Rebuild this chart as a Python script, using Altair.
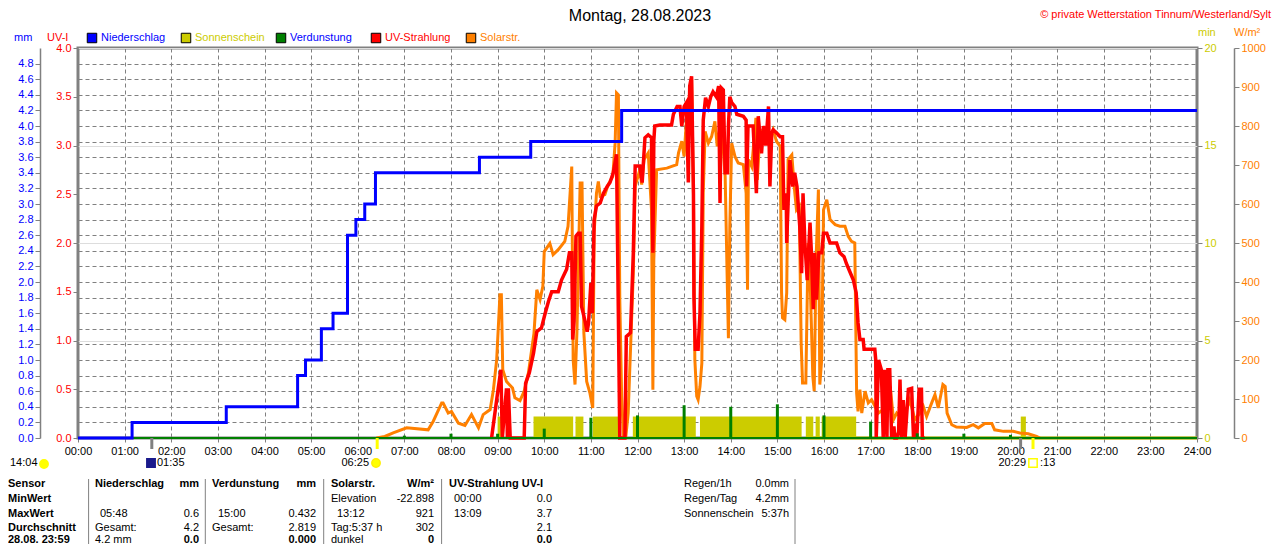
import altair as alt
import pandas as pd

FONT = "Liberation Sans, Arial, sans-serif"
FS = 11
BLUE, YEL, GREEN, RED, ORANGE, GRAY = "#0000FF", "#CCCC00", "#008000", "#FF0000", "#FF8000", "#808080"

# ---------------- data (hours of the day) ----------------
rain_h = [0, 1.16, 3.18, 4.71, 4.88, 5.22, 5.47, 5.78, 5.96, 6.15, 6.38, 8.61, 9.71, 11.66, 24]
rain_mm = [0, 0.2, 0.4, 0.8, 1.0, 1.4, 1.6, 2.6, 2.8, 3.0, 3.4, 3.6, 3.8, 4.2, 4.2]

evap_h = [1, 2, 3, 4, 5, 6, 7, 8, 9, 10, 11, 12, 13, 14, 15, 16, 17, 18, 19, 20, 21]
evap_mm = [0.01, 0.01, 0.01, 0.01, 0.01, 0.01, 0.03, 0.055, 0.055, 0.12, 0.26, 0.29,
           0.42, 0.40, 0.432, 0.29, 0.21, 0.06, 0.055, 0.04, 0.01]

sun_start = [9.00, 9.77, 10.67, 11.04, 11.90, 13.34, 15.61, 15.82, 15.95, 20.22]
sun_end = [9.07, 10.62, 10.84, 11.62, 13.25, 15.52, 15.77, 15.91, 16.69, 20.33]
sun_min = [1.1, 1.1, 1.1, 1.1, 1.1, 1.1, 1.1, 1.1, 1.1, 1.1]
sun_zero = [15.65, 24.0]
base_line = [0.0, 24.0]

solar = [
    (6.40, 0), (6.58, 4), (6.76, 13), (7.05, 26), (7.51, 21), (7.62, 43), (7.80, 90), (7.83, 90),
    (7.94, 64), (8.01, 68), (8.16, 38), (8.30, 32), (8.44, 60), (8.59, 26), (8.69, 60), (8.84, 73),
    (8.91, 124), (8.98, 201), (9.05, 367), (9.08, 367), (9.11, 175), (9.19, 145), (9.32, 128),
    (9.37, 103), (9.48, 96), (9.57, 120), (9.66, 167), (9.78, 269), (9.84, 380), (9.91, 355),
    (9.97, 389), (10.00, 478), (10.12, 499), (10.19, 470), (10.30, 483), (10.44, 504), (10.51, 543),
    (10.59, 696), (10.62, 201), (10.66, 137), (10.70, 269), (10.77, 654), (10.81, 654), (10.85, 269),
    (10.91, 145), (10.98, 115), (11.04, 77), (11.07, 526), (11.12, 628), (11.16, 658), (11.20, 620),
    (11.30, 624), (11.37, 649), (11.47, 671), (11.52, 756), (11.55, 885), (11.59, 880), (11.62, 355),
    (11.66, 107), (11.70, 4), (11.75, 4), (11.80, 64), (11.91, 423), (11.95, 645), (12.05, 688),
    (12.09, 650), (12.14, 714), (12.23, 731), (12.30, 585), (12.33, 124), (12.35, 457), (12.41, 688),
    (12.63, 692), (12.84, 701), (12.88, 731), (12.95, 761), (13.00, 722), (13.05, 816), (13.12, 885),
    (13.16, 921), (13.20, 628), (13.23, 201), (13.27, 107), (13.30, 98), (13.34, 132), (13.38, 192),
    (13.41, 628), (13.45, 786), (13.52, 756), (13.59, 773), (13.66, 812), (13.71, 748), (13.77, 799),
    (13.83, 756), (13.88, 671), (13.93, 372), (13.95, 256), (13.98, 543), (14.02, 756), (14.09, 722),
    (14.16, 705), (14.27, 701), (14.33, 628), (14.36, 380), (14.38, 714), (14.45, 696), (14.54, 821),
    (14.57, 662), (14.63, 791), (14.73, 765), (14.84, 773), (14.91, 791), (14.98, 761), (15.06, 748),
    (15.09, 372), (15.11, 308), (15.16, 303), (15.20, 372), (15.23, 714), (15.31, 726), (15.36, 645),
    (15.41, 585), (15.47, 594), (15.51, 244), (15.54, 141), (15.61, 141), (15.66, 500), (15.71, 372),
    (15.76, 158), (15.79, 120), (15.83, 457), (15.88, 637), (15.91, 137), (15.95, 201), (15.99, 585),
    (16.06, 611), (16.13, 560), (16.24, 547), (16.34, 543), (16.45, 543), (16.52, 517), (16.59, 504),
    (16.66, 500), (16.70, 115), (16.73, 68), (16.77, 124), (16.81, 64), (16.88, 120), (16.95, 90),
    (17.02, 98), (17.17, 64), (17.27, 73), (17.42, 132), (17.49, 47), (17.56, 64), (17.70, 47),
    (17.84, 98), (17.95, 47), (18.06, 64), (18.13, 81), (18.20, 55), (18.31, 90), (18.38, 111),
    (18.45, 77), (18.55, 137), (18.60, 132), (18.64, 64), (18.74, 34), (18.84, 28), (19.06, 27),
    (19.20, 34), (19.31, 26), (19.45, 37), (19.60, 37), (19.66, 21), (19.85, 17), (20.06, 17),
    (20.20, 13), (20.38, 11), (20.56, 4), (20.63, 0),
]

uv = [
    (8.87, 0), (9.01, 0.50), (9.07, 0.70), (9.10, 0), (9.19, 0.51), (9.21, 0), (9.23, 0.51), (9.27, 0),
    (9.57, 0), (9.60, 0.56), (9.68, 0.67), (9.77, 0.87), (9.84, 1.09), (9.94, 1.13), (10.02, 1.28),
    (10.09, 1.40), (10.16, 1.50), (10.30, 1.50), (10.37, 1.62), (10.48, 1.73), (10.54, 1.90),
    (10.59, 1.90), (10.61, 1.01), (10.64, 1.20), (10.68, 2.07), (10.73, 2.10), (10.77, 2.10),
    (10.80, 1.35), (10.87, 1.21), (10.92, 1.09), (10.95, 1.18), (11.00, 1.59), (11.03, 1.28),
    (11.07, 2.24), (11.12, 2.38), (11.20, 2.41), (11.27, 2.51), (11.35, 2.58), (11.41, 2.62),
    (11.48, 2.72), (11.55, 2.91), (11.59, 1.25), (11.62, 0), (11.73, 0), (11.76, 1.04), (11.85, 1.08),
    (11.91, 1.90), (11.95, 2.79), (12.05, 2.79), (12.10, 2.62), (12.16, 3.08), (12.23, 3.11),
    (12.30, 3.08), (12.33, 1.90), (12.35, 3.05), (12.37, 3.20), (12.48, 3.21), (12.73, 3.21),
    (12.77, 3.32), (12.85, 3.40), (12.91, 3.40), (12.95, 3.20), (13.00, 3.40), (13.05, 3.44),
    (13.09, 2.62), (13.12, 3.61), (13.16, 3.71), (13.20, 2.51), (13.21, 1.45), (13.24, 0.91),
    (13.30, 0.91), (13.34, 1.28), (13.38, 2.17), (13.41, 3.26), (13.46, 3.49), (13.52, 3.40),
    (13.57, 3.50), (13.62, 3.55), (13.69, 3.50), (13.74, 3.61), (13.77, 2.41), (13.80, 3.59),
    (13.84, 3.57), (13.88, 2.72), (13.93, 2.72), (13.95, 3.20), (13.98, 3.50), (14.02, 3.44),
    (14.09, 3.40), (14.13, 3.32), (14.27, 3.30), (14.33, 3.26), (14.34, 2.58), (14.37, 3.20),
    (14.48, 3.20), (14.51, 2.90), (14.55, 2.51), (14.59, 3.30), (14.66, 2.92), (14.70, 3.20),
    (14.75, 3.00), (14.81, 3.40), (14.84, 2.58), (14.88, 3.13), (14.91, 3.16), (14.98, 3.13),
    (15.06, 3.09), (15.11, 3.09), (15.14, 2.34), (15.19, 2.51), (15.20, 2.00), (15.23, 2.41),
    (15.27, 2.85), (15.33, 2.58), (15.37, 2.72), (15.42, 2.58), (15.48, 2.17), (15.52, 1.69),
    (15.55, 2.51), (15.59, 2.00), (15.64, 1.62), (15.70, 2.21), (15.73, 1.90), (15.77, 1.32),
    (15.80, 1.90), (15.84, 1.42), (15.89, 1.90), (15.95, 1.90), (15.99, 2.10), (16.06, 2.10),
    (16.13, 2.00), (16.27, 2.00), (16.34, 1.90), (16.43, 1.86), (16.48, 1.79), (16.55, 1.71),
    (16.63, 1.62), (16.69, 1.49), (16.73, 1.18), (16.77, 1.01), (16.84, 1.01), (16.86, 0.91),
    (17.09, 0.91), (17.11, 0.80), (17.12, 0), (17.17, 0.80), (17.23, 0.70), (17.27, 0), (17.30, 0.70),
    (17.35, 0), (17.37, 0.70), (17.41, 0.70), (17.45, 0), (17.50, 0.12), (17.52, 0), (17.56, 0),
    (17.60, 0.06), (17.63, 0.60), (17.66, 0), (17.70, 0.39), (17.74, 0), (17.81, 0.50), (17.88, 0.51),
    (17.92, 0), (17.95, 0.15), (17.99, 0), (18.04, 0.50), (18.09, 0.50), (18.11, 0), (18.16, 0),
]

# astronomical events below the time axis
event_h = [1.583, 6.417, 20.217, 20.483]
event_color = [GRAY, "#FFFF00", GRAY, "#FFFF00"]

# axis tick lists
hour_ticks = list(range(25))
mm_ticks = [0.0, 0.2, 0.4, 0.6, 0.8, 1.0, 1.2, 1.4, 1.6, 1.8, 2.0, 2.2, 2.4, 2.6, 2.8, 3.0,
            3.2, 3.4, 3.6, 3.8, 4.0, 4.2, 4.4, 4.6, 4.8]
uv_ticks = [0.0, 0.5, 1.0, 1.5, 2.0, 2.5, 3.0, 3.5, 4.0]
min_ticks = [0, 5, 10, 15, 20]
w_ticks = [0, 100, 200, 300, 400, 500, 600, 700, 800, 900, 1000]

# ---------------- text content & layout (pixels relative to plot area) ----------------
ROW_Y = [436, 451, 465.5, 479.5, 491.5]
COL_X = {"sensor": -70, "n": 17, "n_t": 22, "n_r": 121, "v": 134, "v_t": 140, "v_r": 238,
         "s": 253, "s_t": 259, "s_r": 356, "u": 371, "u_t": 376, "u_r": 474, "rg": 606, "rg_r": 711}
table_cells = [
    ("Sensor", "sensor", 0, "bold"), ("MinWert", "sensor", 1, "bold"), ("MaxWert", "sensor", 2, "bold"),
    ("Durchschnitt", "sensor", 3, "bold"), ("28.08. 23:59", "sensor", 4, "bold"),
    ("Niederschlag", "n", 0, "bold"), ("mm", "n_r", 0, "bold"),
    ("Verdunstung", "v", 0, "bold"), ("mm", "v_r", 0, "bold"),
    ("Solarstr.", "s", 0, "bold"), ("W/m²", "s_r", 0, "bold"),
    ("UV-Strahlung UV-I", "u", 0, "bold"),
    ("Elevation", "s", 1, "normal"), ("-22.898", "s_r", 1, "normal"),
    ("00:00", "u_t", 1, "normal"), ("0.0", "u_r", 1, "normal"),
    ("05:48", "n_t", 2, "normal"), ("0.6", "n_r", 2, "normal"),
    ("15:00", "v_t", 2, "normal"), ("0.432", "v_r", 2, "normal"),
    ("13:12", "s_t", 2, "normal"), ("921", "s_r", 2, "normal"),
    ("13:09", "u_t", 2, "normal"), ("3.7", "u_r", 2, "normal"),
    ("Gesamt:", "n", 3, "normal"), ("4.2", "n_r", 3, "normal"),
    ("Gesamt:", "v", 3, "normal"), ("2.819", "v_r", 3, "normal"),
    ("Tag:5:37 h", "s", 3, "normal"), ("302", "s_r", 3, "normal"), ("2.1", "u_r", 3, "normal"),
    ("4.2 mm", "n", 4, "normal"), ("0.0", "n_r", 4, "bold"), ("0.000", "v_r", 4, "bold"),
    ("dunkel", "s", 4, "normal"), ("0", "s_r", 4, "bold"), ("0.0", "u_r", 4, "bold"),
    ("Regen/1h", "rg", 0, "normal"), ("0.0mm", "rg_r", 0, "normal"),
    ("Regen/Tag", "rg", 1, "normal"), ("4.2mm", "rg_r", 1, "normal"),
    ("Sonnenschein", "rg", 2, "normal"), ("5:37h", "rg_r", 2, "normal"),
]
sep_x = [10.6, 127.3, 245.7, 363.6, 717]
sep_y = (431, 506)

legend_labels = ["Niederschlag", "Sonnenschein", "Verdunstung", "UV-Strahlung", "Solarstr."]
legend_colors = [BLUE, YEL, GREEN, RED, ORANGE]
legend_text_colors = [BLUE, YEL, BLUE, RED, ORANGE]
legend_x = [14, 108, 203, 298, 393]
LEG_Y = -10

# free texts: (text, x, y, color, align, weight, size)
free_texts = [
    ("Montag, 28.08.2023", 562, -32, "black", "center", "normal", 16),
    ("© private Wetterstation Tinnum/Westerland/Sylt", 1193, -33, RED, "right", "normal", FS),
    ("mm", -64, LEG_Y, BLUE, "left", "normal", FS),
    ("UV-I", -31, LEG_Y, RED, "left", "normal", FS),
    ("min", 1120, -15, YEL, "left", "normal", FS),
    ("W/m²", 1156, -15, ORANGE, "left", "normal", FS),
    ("14:04", -68, 415, "black", "left", "normal", FS),
    ("01:35", 79, 415, "black", "left", "normal", FS),
    ("06:25", 291, 415, "black", "right", "normal", FS),
    ("20:29", 948, 415, "black", "right", "normal", FS),
    (":13", 962, 415, "black", "left", "normal", FS),
]
# icons: (x, y, fill, stroke, shape)
icons = [(-34, 416, "#FFFF00", "#FFFF00", "circle"), (73, 415, "#1A1A8C", "#1A1A8C", "square"),
         (298, 415, "#FFFF00", "#FFEE00", "circle"), (955, 415, "white", "#FFFF00", "square")]

# ---------------- chart ----------------
W, H = 1119, 390

X = alt.X("h:Q", scale=alt.Scale(domain=[0, 24], nice=False, zero=False),
          axis=alt.Axis(values=hour_ticks, title=None,
                        labelExpr="(datum.value < 10 ? '0' : '') + datum.value + ':00'",
                        grid=True, gridDash=[4, 3], gridColor=GRAY, gridOpacity=1, gridWidth=1,
                        domain=False, ticks=True, tickColor=GRAY, tickSize=4, labelPadding=3,
                        labelFlush=False, labelOverlap=False, labelFont=FONT, labelFontSize=FS,
                        labelColor="black"))


def yax(**kw):
    base = dict(title=None, labelFont=FONT, labelFontSize=FS, tickColor=GRAY, tickSize=5,
                labelPadding=2, labelOverlap=False, labelFlush=False, domainColor=GRAY,
                labelBound=False)
    base.update(kw)
    return alt.Axis(**base)


sun_df = pd.DataFrame({"h": sun_start, "h1": sun_end, "v": sun_min, "z": 0.0})
sun_zero_df = pd.DataFrame({"h": [sun_zero[0]], "h1": [sun_zero[1]], "v": [0.0]})
solar_df = pd.DataFrame(solar, columns=["h", "w"])
uv_df = pd.DataFrame(uv, columns=["h", "v"])
rain_df = pd.DataFrame({"h": rain_h, "mm": rain_mm})
evap_df = pd.DataFrame({"h": evap_h, "mm": evap_mm, "z": 0.0})
base_df = pd.DataFrame({"h": [base_line[0]], "h1": [base_line[1]], "mm": [0.0]})

Y_MIN = alt.Y("v:Q", scale=alt.Scale(domain=[0, 20], nice=False, zero=True),
              axis=yax(orient="right", values=min_ticks, labelColor=YEL, domain=False))
sun_layer = alt.layer(
    alt.Chart(sun_df).mark_rect(color=YEL).encode(x=X, x2="h1:Q", y=Y_MIN, y2="z:Q"),
    alt.Chart(sun_zero_df).mark_rule(color=YEL, strokeWidth=3).encode(x=X, x2="h1:Q", y=Y_MIN),
)

solar_layer = alt.Chart(solar_df).mark_line(color=ORANGE, strokeWidth=3).encode(
    x=X,
    y=alt.Y("w:Q", scale=alt.Scale(domain=[0, 1000], nice=False),
            axis=yax(orient="right", offset=37, values=w_ticks, format="d", labelColor=ORANGE,
                     domain=True, domainWidth=1.5)))

uv_layer = alt.Chart(uv_df).mark_line(color=RED, strokeWidth=3.5).encode(
    x=X,
    y=alt.Y("v:Q", scale=alt.Scale(domain=[0, 4], nice=False),
            axis=yax(orient="left", values=uv_ticks, format=".1f", labelColor=RED, domain=False)))

Y_MM = alt.Y("mm:Q", scale=alt.Scale(domain=[0, 5], nice=False),
             axis=yax(orient="left", offset=38, values=mm_ticks, format=".1f", labelColor=BLUE,
                      domain=True, domainWidth=1.5, grid=True, gridDash=[4, 3],
                      gridColor=GRAY, gridOpacity=1, gridWidth=1))
mm_layer = alt.layer(
    alt.Chart(evap_df).mark_rule(color=GREEN, strokeWidth=3).encode(x=X, y=Y_MM, y2="z:Q"),
    alt.Chart(base_df).mark_rule(color=GREEN, strokeWidth=2).encode(x=X, x2="h1:Q", y=Y_MM),
    alt.Chart(rain_df).mark_line(color=BLUE, strokeWidth=3, interpolate="step-after").encode(
        x=X, y=Y_MM),
)

event_df = pd.DataFrame({"h": event_h, "c": event_color})
event_layer = alt.Chart(event_df).mark_rule(strokeWidth=3).encode(
    x=X, y=alt.value(390), y2=alt.value(401), color=alt.Color("c:N", scale=None))


# ---- annotation layers ----
def text_layer(df, align, weight, size):
    return alt.Chart(df).mark_text(align=align, baseline="middle", font=FONT,
                                   fontWeight=weight, fontSize=size).encode(
        x=alt.X("x:Q", scale=None), y=alt.Y("y:Q", scale=None),
        text="t:N", color=alt.Color("c:N", scale=None))


rows = []
for t, col, r, wgt in table_cells:
    rows.append((t, COL_X[col], ROW_Y[r], "black", "right" if col.endswith("_r") else "left", wgt, FS))
for t, x, y, c, a, wgt, s in free_texts:
    rows.append((t, x, y, c, a, wgt, s))
for lab, lx, tc in zip(legend_labels, legend_x, legend_text_colors):
    rows.append((lab, lx + 9, LEG_Y, tc, "left", "normal", FS))
tdf = pd.DataFrame(rows, columns=["t", "x", "y", "c", "a", "wt", "s"])

text_layers = []
for (a, wt, s), g in tdf.groupby(["a", "wt", "s"]):
    text_layers.append(text_layer(g, a, wt, s))

leg_df = pd.DataFrame({"x": legend_x, "y": LEG_Y, "c": legend_colors})
legend_sq = alt.Chart(leg_df).mark_square(size=90, stroke="black", strokeWidth=1, opacity=1,
                                          filled=True).encode(
    x=alt.X("x:Q", scale=None), y=alt.Y("y:Q", scale=None), fill=alt.Fill("c:N", scale=None))

icon_df = pd.DataFrame(icons, columns=["x", "y", "f", "st", "shape"])
icon_layer = alt.Chart(icon_df).mark_point(size=70, filled=False, strokeWidth=1.5, opacity=1).encode(
    x=alt.X("x:Q", scale=None), y=alt.Y("y:Q", scale=None),
    fill=alt.Fill("f:N", scale=None), stroke=alt.Stroke("st:N", scale=None),
    shape=alt.Shape("shape:N", scale=None))

sep_df = pd.DataFrame({"x": sep_x, "y": sep_y[0], "y2": sep_y[1]})
sep_layer = alt.Chart(sep_df).mark_rule(color=GRAY, strokeWidth=1).encode(
    x=alt.X("x:Q", scale=None), y=alt.Y("y:Q", scale=None), y2="y2:Q")

chart = alt.layer(
    sun_layer, solar_layer, uv_layer, mm_layer, event_layer,
    sep_layer, legend_sq, icon_layer, *text_layers
).resolve_scale(y="independent").properties(
    width=W, height=H,
    autosize=alt.AutoSizeParams(type="none"),
    padding={"left": 70, "top": 40, "right": 75, "bottom": 106},
    background="white",
).configure_view(stroke=GRAY, strokeWidth=3)

chart.save("out.html", embed_options={"renderer": "svg", "actions": False})
